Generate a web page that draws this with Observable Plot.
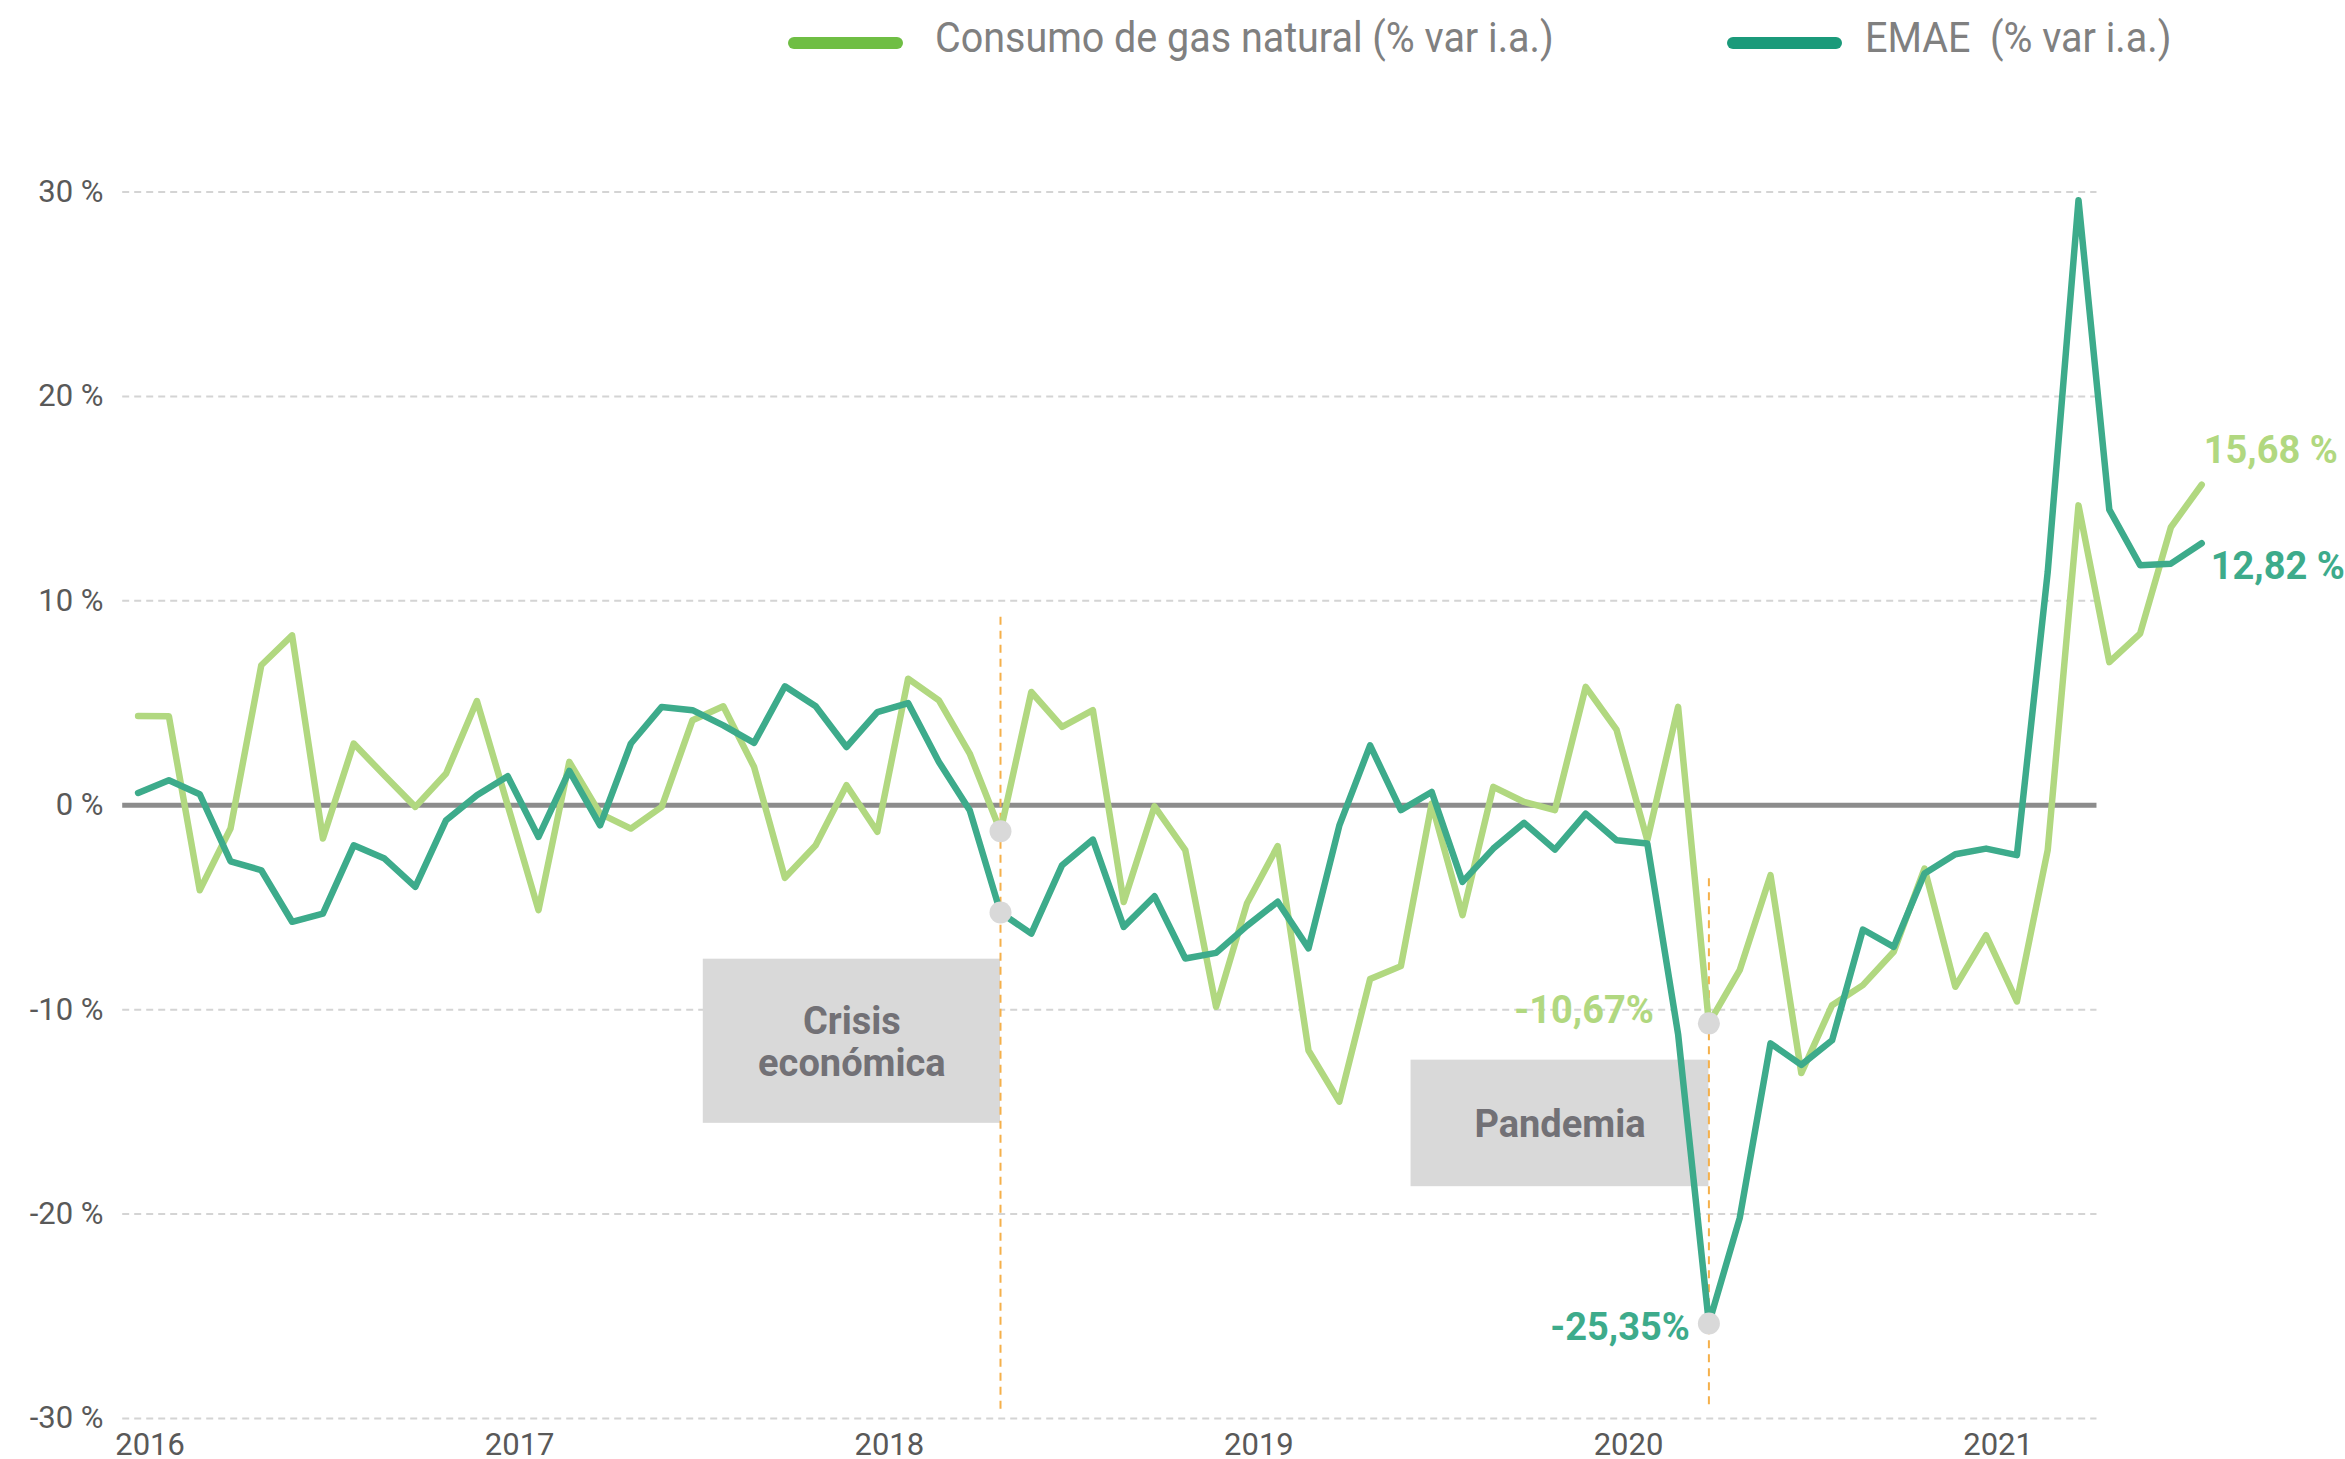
<!DOCTYPE html>
<html>
<head>
<meta charset="utf-8">
<script src="https://cdn.jsdelivr.net/npm/d3@7"></script>
<script src="https://cdn.jsdelivr.net/npm/@observablehq/plot@0.6"></script>
<style>
html, body { margin: 0; padding: 0; background: #ffffff; }
body { width: 2345px; height: 1459px; overflow: hidden; font-family: Roboto, "Noto Sans", sans-serif; }
#legend { position: relative; width: 2345px; height: 80px; }
.sw { position: absolute; top: 37px; width: 115px; height: 12px; border-radius: 6px; }
.lt { position: absolute; top: 17px; font-size: 42px; line-height: 42px; color: #808080; white-space: pre; transform: scaleX(0.94); transform-origin: 0 50%; }
</style>
</head>
<body>
<div id="legend"></div>
<div id="chart"></div>
<script>
// ---- Data ----
const months = [
  "2016-01","2016-02","2016-03","2016-04","2016-05","2016-06","2016-07","2016-08","2016-09","2016-10","2016-11","2016-12",
  "2017-01","2017-02","2017-03","2017-04","2017-05","2017-06","2017-07","2017-08","2017-09","2017-10","2017-11","2017-12",
  "2018-01","2018-02","2018-03","2018-04","2018-05","2018-06","2018-07","2018-08","2018-09","2018-10","2018-11","2018-12",
  "2019-01","2019-02","2019-03","2019-04","2019-05","2019-06","2019-07","2019-08","2019-09","2019-10","2019-11","2019-12",
  "2020-01","2020-02","2020-03","2020-04","2020-05","2020-06","2020-07","2020-08","2020-09","2020-10","2020-11","2020-12",
  "2021-01","2021-02","2021-03","2021-04","2021-05","2021-06","2021-07","2021-08"
];

// Consumo de gas natural (% var i.a.)
const gas = [
  4.37, 4.35, -4.16, -1.14, 6.85, 8.31, -1.63, 3.02, 1.45, -0.08, 1.55, 5.10,
  0.00, -5.13, 2.12, -0.41, -1.14, -0.08, 4.16, 4.84, 1.87, -3.55, -1.96, 0.98,
  -1.30, 6.19, 5.13, 2.53, -1.27, 5.54, 3.83, 4.65, -4.73, -0.05, -2.20, -9.86,
  -4.81, -2.00, -12.00, -14.50, -8.50, -7.87, 0.08, -5.38, 0.90, 0.16, -0.24, 5.79,
  3.70, -1.71, 4.81, -10.67, -8.07, -3.42, -13.10, -9.78, -8.80, -7.17, -3.10, -8.88,
  -6.36, -9.60, -2.20, 14.67, 7.00, 8.40, 13.60, 15.68
];

// EMAE (% var i.a.)
const emae = [
  0.60, 1.22, 0.54, -2.74, -3.18, -5.70, -5.30, -1.96, -2.61, -3.99, -0.73, 0.49,
  1.42, -1.55, 1.68, -0.98, 3.02, 4.81, 4.65, 3.91, 3.05, 5.82, 4.84, 2.85,
  4.56, 5.00, 2.12, -0.24, -5.25, -6.28, -2.93, -1.68, -5.95, -4.45, -7.50, -7.22,
  -5.90, -4.72, -7.00, -1.00, 2.93, -0.24, 0.65, -3.75, -2.12, -0.86, -2.17, -0.41,
  -1.71, -1.87, -11.20, -25.35, -20.20, -11.65, -12.70, -11.50, -6.08, -6.93, -3.34, -2.40,
  -2.12, -2.44, 11.40, 29.60, 14.46, 11.74, 11.82, 12.82
];

const seriesNames = ["Consumo de gas natural (% var i.a.)", "EMAE  (% var i.a.)"];
const years = ["2016", "2017", "2018", "2019", "2020", "2021"];
const yTicks = [-30, -20, -10, 0, 10, 20, 30];
const eventMonths = ["2018-05", "2020-04"];
const eventLabels = ["Crisis\neconómica", "Pandemia"];

// ---- Styles ----
const GREEN = "#b1d880";
const TEAL = "#3dab8b";
const GREEN_SW = "#6fbe44";
const TEAL_SW = "#1b9a7a";

// ---- Legend ----
const legend = document.getElementById("legend");
const legendPos = [{sw: 788, tx: 935, c: GREEN_SW}, {sw: 1727, tx: 1865, c: TEAL_SW}];
seriesNames.forEach((name, k) => {
  const s = document.createElement("div");
  s.className = "sw"; s.style.left = legendPos[k].sw + "px"; s.style.background = legendPos[k].c;
  legend.appendChild(s);
  const t = document.createElement("div");
  t.className = "lt"; t.style.left = legendPos[k].tx + "px"; t.textContent = name;
  legend.appendChild(t);
});

// ---- Derived ----
const X = (d, i) => i;
const ev = eventMonths.map(m => months.indexOf(m));
const yearIdx = years.map(y => months.indexOf(y + "-01"));
const fmt = v => v.toFixed(2).replace(".", ",");
const last = months.length - 1;

const events = [
  {i: ev[0], top: 9.2},
  {i: ev[1], top: -3.6}
];
const boxes = [
  {x1: 18.35, x2: ev[0], y1: -7.53, y2: -15.56, label: eventLabels[0]},
  {x1: 41.33, x2: ev[1], y1: -12.47, y2: -18.66, label: eventLabels[1]}
];
const dots = [
  {i: ev[0], v: gas[ev[0]]}, {i: ev[0], v: emae[ev[0]]},
  {i: ev[1], v: gas[ev[1]]}, {i: ev[1], v: emae[ev[1]]}
];
const callouts = [
  {i: ev[1], v: gas[ev[1]], t: fmt(gas[ev[1]]) + "%", c: GREEN},
  {i: ev[1], v: emae[ev[1]], t: fmt(emae[ev[1]]) + "%", c: TEAL},
  {i: last, v: gas[last], t: fmt(gas[last]) + " %", c: GREEN},
  {i: last, v: emae[last], t: fmt(emae[last]) + " %", c: TEAL}
];

const gridEnd = 63.6;

const chart = Plot.plot({
  width: 2345,
  height: 1379,
  marginLeft: 137.6,
  marginRight: 143.8,
  marginTop: 111.5,
  marginBottom: 41,
  x: {type: "linear", domain: [0, last]},
  y: {domain: [-30, 30]},
  style: {fontFamily: "Roboto, 'Noto Sans', sans-serif", background: "#ffffff", color: "#595959", overflow: "visible"},
  marks: [
    Plot.ruleY(yTicks.filter(d => d !== 0), {x1: -0.5, x2: gridEnd, stroke: "#d4d4d4", strokeWidth: 2, strokeDasharray: "7,5"}),
    Plot.ruleY([0], {x1: -0.5, x2: gridEnd, stroke: "#8c8c8c", strokeWidth: 5}),
    Plot.rect(boxes, {x1: "x1", x2: "x2", y1: "y1", y2: "y2", fill: "#d9d9d9"}),
    Plot.text(boxes, {x: d => (d.x1 + d.x2) / 2, y: d => (d.y1 + d.y2) / 2, text: "label", fill: "#727176", fontSize: 38, fontWeight: "bold", lineHeight: 1.1}),
    Plot.ruleX(events, {x: "i", y1: "top", y2: -29.6, stroke: "#f5b04a", strokeWidth: 2, strokeDasharray: "8,6"}),
    Plot.lineY(gas, {x: X, y: d => d, stroke: GREEN, strokeWidth: 6.5, strokeLinecap: "round", strokeLinejoin: "round"}),
    Plot.lineY(emae, {x: X, y: d => d, stroke: TEAL, strokeWidth: 6.5, strokeLinecap: "round", strokeLinejoin: "round"}),
    Plot.dot(dots, {x: "i", y: "v", r: 11, fill: "#d9d9d9", stroke: "none"}),
    Plot.text(callouts, {x: "i", y: "v", text: "t", fill: "c", textAnchor: "end", dx: -55, dy: -13, fontSize: 38, fontWeight: "bold", filter: (d, k) => k === 0}),
    Plot.text(callouts, {x: "i", y: "v", text: "t", fill: "c", textAnchor: "end", dx: -19, dy: 4, fontSize: 38, fontWeight: "bold", filter: (d, k) => k === 1}),
    Plot.text(callouts, {x: "i", y: "v", text: "t", fill: "c", textAnchor: "start", dx: 2, dy: -34, fontSize: 38, fontWeight: "bold", filter: (d, k) => k === 2}),
    Plot.text(callouts, {x: "i", y: "v", text: "t", fill: "c", textAnchor: "start", dx: 9, dy: 24, fontSize: 38, fontWeight: "bold", filter: (d, k) => k === 3}),
    Plot.axisX(yearIdx, {tickSize: 0, tickPadding: 14, tickFormat: i => months[i].slice(0, 4), dx: 12, fontSize: 31, label: null}),
    Plot.axisY(yTicks, {tickSize: 0, tickPadding: 34.6, tickFormat: d => d + " %", fontSize: 31, label: null})
  ]
});
document.getElementById("chart").appendChild(chart);
</script>
</body>
</html>
